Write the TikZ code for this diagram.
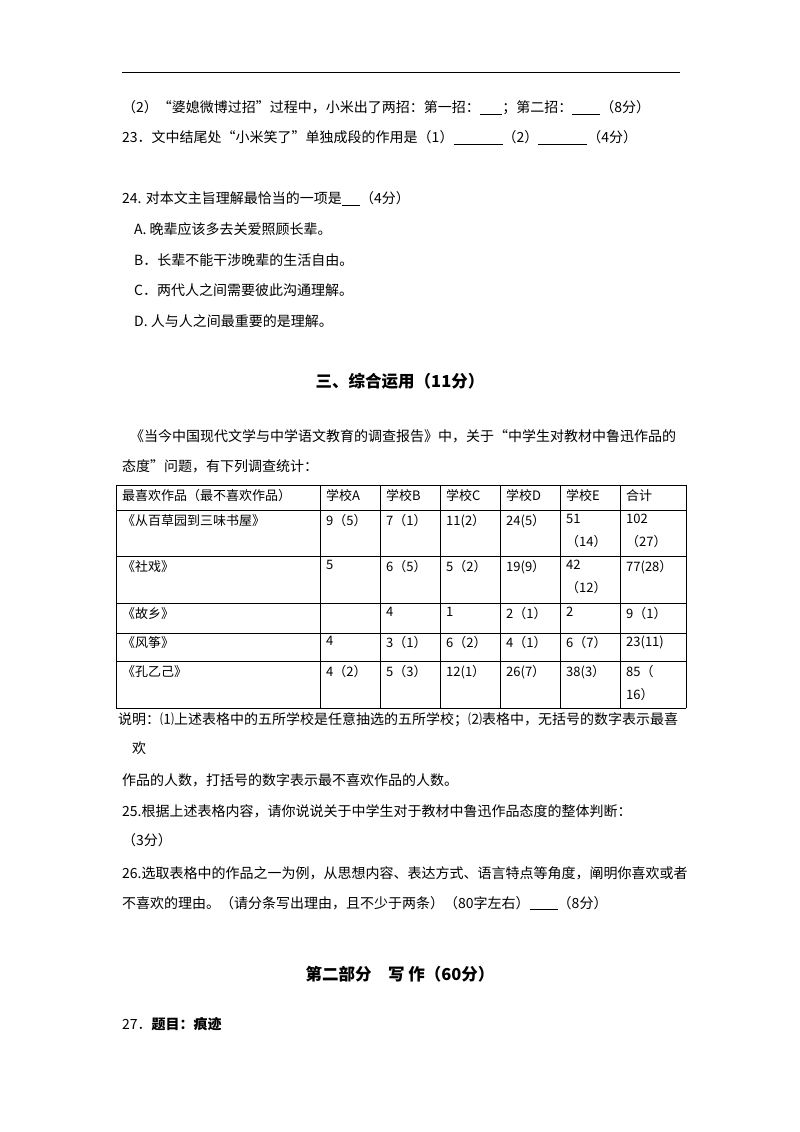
\documentclass[tikz,border=0pt]{standalone}
\usepackage{fontspec}
\setmainfont{Noto Sans CJK SC}
\usetikzlibrary{positioning}
\tikzset{
  line/.style  = {anchor=west, inner sep=0pt, font=\fontsize{14}{16}\selectfont},
  title/.style = {anchor=center, inner sep=0pt, font=\fontsize{16.5}{18}\selectfont\bfseries},
  cell/.style  = {anchor=north west, inner sep=0pt, align=left,
                  font=\fontsize{13}{23}\selectfont},
  grid/.style  = {line width=0.6pt}
}
\begin{document}
\begin{tikzpicture}[x=1pt,y=-1pt]
\useasboundingbox (0,0) rectangle (800,1132);
\draw[line width=0.8pt] (122,72) -- (680,72);

% questions 22--24
\node[line] (q22) at (122,108) {（2）“婆媳微博过招”过程中，小米出了两招：第一招：\underline{\hspace{1.6em}}；第二招：\underline{\hspace{2em}}（8分）};
\node[line] (q23) at (122,138) {23．文中结尾处“小米笑了”单独成段的作用是（1）\underline{\hspace{3.5em}}（2）\underline{\hspace{3.5em}}（4分）};
\node[line] (q24) at (122,199) {24. 对本文主旨理解最恰当的一项是\underline{\hspace{1.3em}}（4分）};
\node[line] (ca) at (134,229) {A. 晚辈应该多去关爱照顾长辈。};
\node[line] (cb) at (134,260) {B．长辈不能干涉晚辈的生活自由。};
\node[line] (cc) at (134,290) {C．两代人之间需要彼此沟通理解。};
\node[line] (cd) at (134,321) {D. 人与人之间最重要的是理解。};

% part three
\node[title] (p3) at (400,381) {三、综合运用（11分）};
\node[line] (intro1) at (130,436) {《当今中国现代文学与中学语文教育的调查报告》中，关于“中学生对教材中鲁迅作品的};
\node[line] (intro2) at (122,466) {态度”问题，有下列调查统计：};

% table
\foreach \y in {485,510,556,603,633,661,708}
  \draw[grid] (116,\y) -- (686,\y);
\foreach \x in {116,320,380,440,500,560,620,686}
  \draw[grid] (\x,485) -- (\x,708);
\foreach \x/\t [count=\i] in {122/最喜欢作品（最不喜欢作品）,326/学校A,386/学校B,446/学校C,506/学校D,566/学校E,626/合计}
  \node[cell] (h\i) at (\x,489) {\t};
\foreach \x/\t [count=\i] in {122/《从百草园到三味书屋》,326/9（5）,386/7（1）,446/11(2）,506/24(5）,566/{51\\（14）},626/{102\\（27）}}
  \node[cell] (ra\i) at (\x,514) {\t};
\foreach \x/\t [count=\i] in {122/《社戏》,326/5,386/6（5）,446/5（2）,506/19(9）,566/{42\\（12）},626/77(28）}
  \node[cell] (rb\i) at (\x,560) {\t};
\foreach \x/\t [count=\i] in {122/《故乡》,386/4,446/1,506/2（1）,566/2,626/9（1）}
  \node[cell] (rc\i) at (\x,607) {\t};
\foreach \x/\t [count=\i] in {122/《风筝》,326/4,386/3（1）,446/6（2）,506/4（1）,566/6（7）,626/23(11)}
  \node[cell] (rd\i) at (\x,636) {\t};
\foreach \x/\t [count=\i] in {122/《孔乙己》,326/4（2）,386/5（3）,446/12(1）,506/26(7）,566/38(3）,626/{85（\\16）}}
  \node[cell] (re\i) at (\x,665) {\t};

% notes and questions 25--27
\node[line] (note1) at (118,720) {说明：⑴上述表格中的五所学校是任意抽选的五所学校；⑵表格中，无括号的数字表示最喜};
\node[line] (note2) at (132,748) {欢};
\node[line] (note3) at (122,780) {作品的人数，打括号的数字表示最不喜欢作品的人数。};
\node[line] (q25) at (122,811) {25.根据上述表格内容，请你说说关于中学生对于教材中鲁迅作品态度的整体判断：};
\node[line] (q25b) at (122,840) {（3分）};
\node[line] (q26) at (122,873) {26.选取表格中的作品之一为例，从思想内容、表达方式、语言特点等角度，阐明你喜欢或者};
\node[line] (q26b) at (122,903) {不喜欢的理由。（请分条写出理由，且不少于两条）（80字左右）\underline{\hspace{2em}}（8分）};

\node[title] (p2) at (400,974) {第二部分\quad 写\ 作（60分）};
\node[line] (q27) at (122,1024) {27．\textbf{题目：痕迹}};
\end{tikzpicture}
\end{document}
